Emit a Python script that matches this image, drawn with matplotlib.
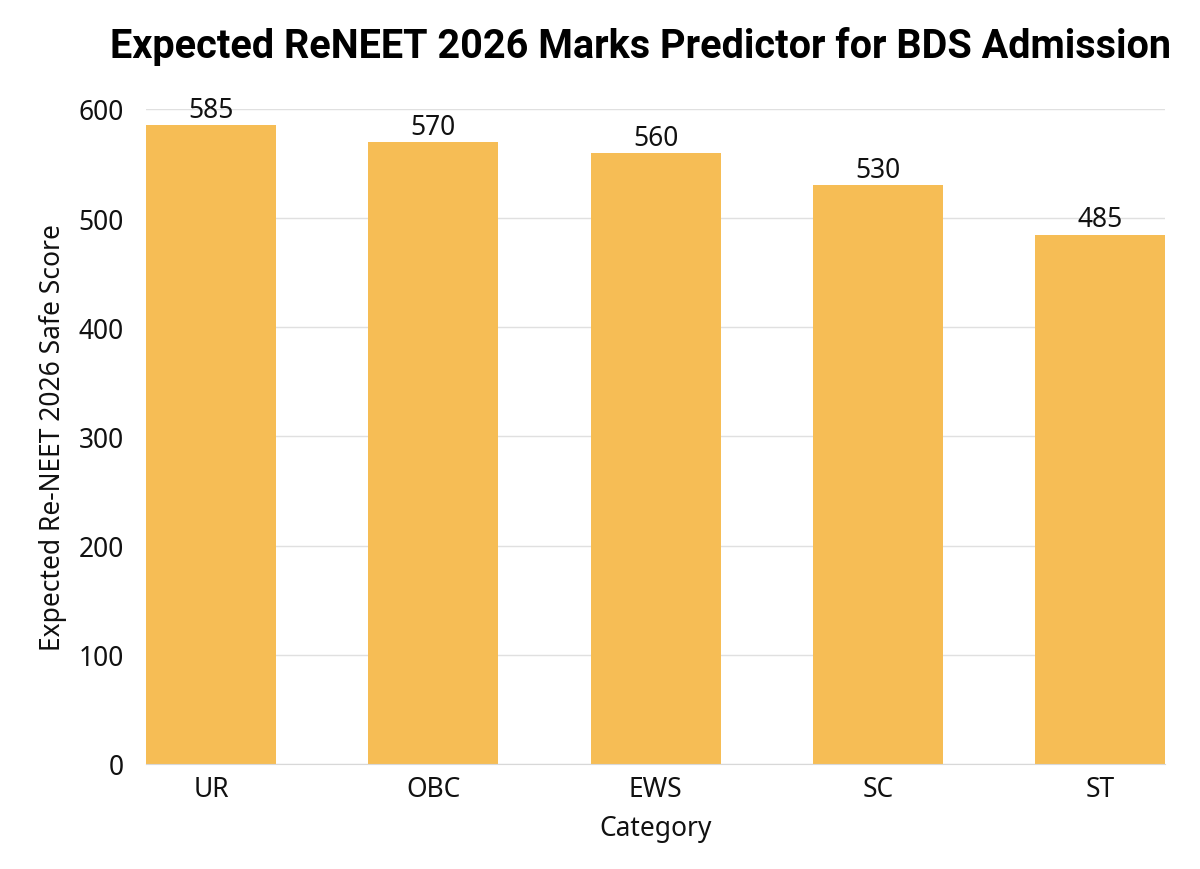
import matplotlib
matplotlib.use("Agg")
import matplotlib.pyplot as plt

categories = ["UR", "OBC", "EWS", "SC", "ST"]
scores = [585, 570, 560, 530, 485]
yticks = [0, 100, 200, 300, 400, 500, 600]

plt.rcParams['font.family'] = ['Noto Sans', 'DejaVu Sans']

fig = plt.figure(figsize=(12, 8.7), dpi=100)
ax = fig.add_axes([0.1217, 0.1207, 0.8492, 0.7529])

w = 0.585
x = list(range(len(categories)))
bars = ax.bar(x, scores, width=w, color="#F6BD55", zorder=3)
for xi, v in zip(x, scores):
    ax.text(xi, v + 1, str(v), ha="center", va="bottom", fontsize=19, color="#111111", zorder=4)

ax.set_xlim(-w / 2, len(categories) - 1 + w / 2)
ax.set_ylim(0, 600)
ax.set_yticks(yticks)
ax.set_xticks(x)
ax.set_xticklabels(categories)
ax.tick_params(axis="both", length=0, labelsize=19, colors="#111111")
ax.tick_params(axis="y", pad=16)
ax.tick_params(axis="x", pad=8)
ax.grid(axis="y", color="#e0e0e0", linewidth=1, zorder=0)
for s in ["top", "right", "left"]:
    ax.spines[s].set_visible(False)
ax.spines["bottom"].set_color("#d8d8d8")
ax.spines["bottom"].set_zorder(5)

ax.set_xlabel("Category", fontsize=19, labelpad=8, color="#111111")
ax.set_ylabel("Expected Re-NEET 2026 Safe Score", fontsize=19, labelpad=8, color="#111111")

fig.text(0.534, 0.947, "Expected ReNEET 2026 Marks Predictor for BDS Admission",
         ha="center", va="center", fontsize=28.5, fontweight="bold", family=["Roboto", "DejaVu Sans"])

fig.savefig("out.png", dpi=100)
